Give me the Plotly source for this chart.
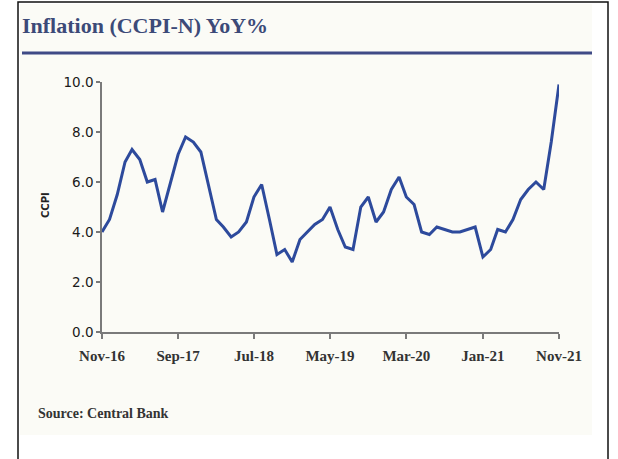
import pandas as pd
import plotly.graph_objects as go

# ---- data ----
start_month = "2016-11-01"
ccpi = [4.0, 4.5, 5.5, 6.8, 7.3, 6.9, 6.0, 6.1, 4.8, 6.0,
        7.1, 7.8, 7.6, 7.2, 5.8, 4.5, 4.2, 3.8, 4.0, 4.4,
        5.4, 5.9, 4.5, 3.1, 3.3, 2.8, 3.7, 4.0, 4.3, 4.5,
        5.0, 4.1, 3.4, 3.3, 5.0, 5.4, 4.4, 4.8, 5.7, 6.2,
        5.4, 5.1, 4.0, 3.9, 4.2, 4.1, 4.0, 4.0, 4.1, 4.2,
        3.0, 3.3, 4.1, 4.0, 4.5, 5.3, 5.7, 6.0, 5.7, 7.6,
        9.9]
tick_labels = ["Nov-16", "Sep-17", "Jul-18", "May-19", "Mar-20", "Jan-21", "Nov-21"]
y_ticks = [0, 2, 4, 6, 8, 10]

months = pd.date_range(start_month, periods=len(ccpi), freq="MS")
tick_dates = list(months[::10])

W, H = 618, 459
L, R, T, B = 102, 559, 82, 332  # plot area in pixels


def px(x):
    return (x - L) / (R - L)


def py(y):
    return (B - y) / (B - T)


fig = go.Figure()
fig.add_trace(go.Scatter(
    x=months, y=ccpi, mode="lines",
    line=dict(color="#2d4a9c", width=3),
    hoverinfo="x+y", showlegend=False,
))

fig.update_layout(
    width=W, height=H,
    margin=dict(l=L, r=W - R, t=T, b=H - B, pad=0),
    paper_bgcolor="white",
    plot_bgcolor="rgba(0,0,0,0)",
    xaxis=dict(
        range=[months[0], months[-1]],
        tickvals=tick_dates,
        ticktext=["<b>%s</b>" % t for t in tick_labels],
        tickfont=dict(family="Liberation Serif", size=15, color="#333333"),
        showgrid=False, zeroline=False,
        showline=True, linecolor="#7a7a7a", linewidth=1.5,
        ticks="outside", ticklen=5, tickcolor="#7a7a7a", tickwidth=1.5,
        ticklabelstandoff=4,
    ),
    yaxis=dict(
        range=[0, 10],
        tickvals=y_ticks,
        ticktext=["%.1f" % v for v in y_ticks],
        tickfont=dict(family="DejaVu Sans", size=13.5, color="#1a1a1a"),
        showgrid=False, zeroline=False,
        showline=True, linecolor="#7a7a7a", linewidth=1.5,
        ticks="outside", ticklen=4, tickcolor="#7a7a7a", tickwidth=1.5,
    ),
    shapes=[
        dict(type="rect", xref="paper", yref="paper",
             x0=px(20), x1=px(592), y0=py(435), y1=py(4),
             fillcolor="#fbfbf6", line=dict(width=0), layer="below"),
        dict(type="rect", xref="paper", yref="paper",
             x0=px(18), x1=px(608), y0=py(480), y1=py(2),
             fillcolor="rgba(0,0,0,0)", line=dict(color="#111111", width=1.5),
             layer="above"),
        dict(type="line", xref="paper", yref="paper",
             x0=px(22), x1=px(592), y0=py(53), y1=py(53),
             line=dict(color="#3f4a86", width=3)),
    ],
    annotations=[
        dict(text="<b>Inflation (CCPI-N) YoY%</b>", xref="paper", yref="paper",
             x=px(20), y=py(25), xanchor="left", yanchor="middle", showarrow=False,
             font=dict(family="Liberation Serif", size=22, color="#3c4a78")),
        dict(text="<b>Source: Central Bank</b>", xref="paper", yref="paper",
             x=px(36), y=py(413), xanchor="left", yanchor="middle", showarrow=False,
             font=dict(family="Liberation Serif", size=14, color="#333333")),
        dict(text="<b>CCPI</b>", xref="paper", yref="paper",
             x=px(45), y=py(205), xanchor="center", yanchor="middle", showarrow=False,
             textangle=-90,
             font=dict(family="DejaVu Sans", size=10, color="#222222")),
    ],
)

fig.write_html("out.html",
               config={"displayModeBar": False},
               post_script="document.body.style.margin='0';document.body.style.overflow='hidden';")
